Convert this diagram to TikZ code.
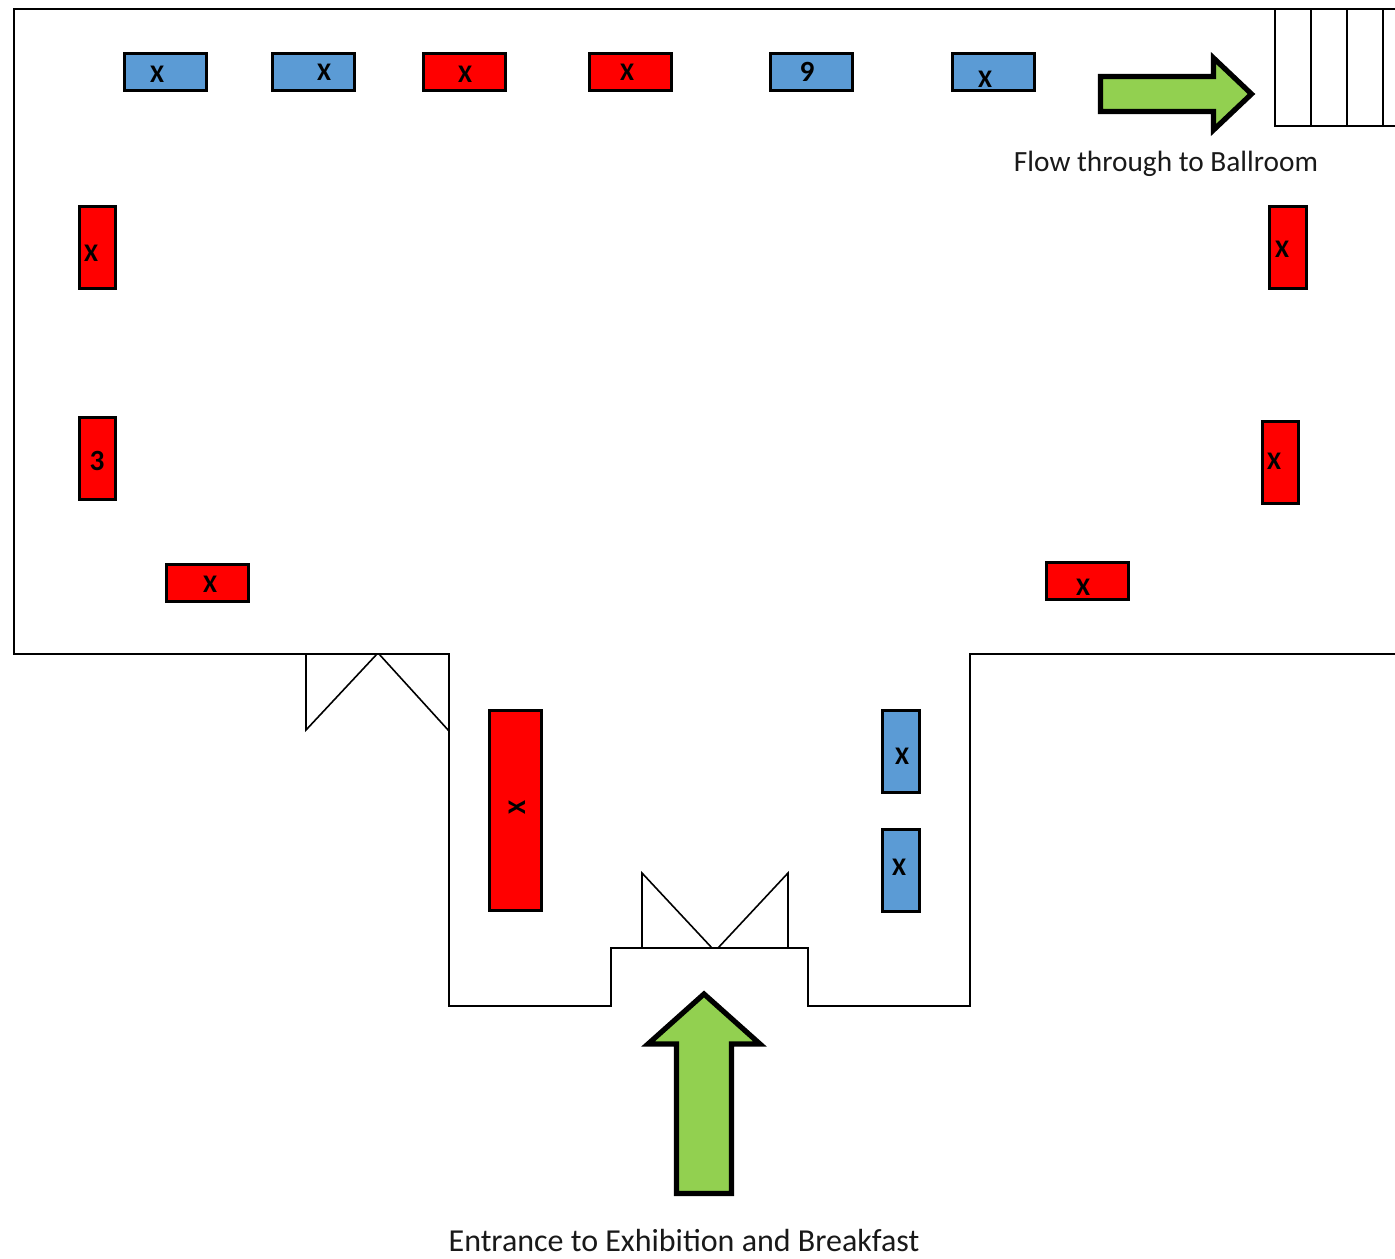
\documentclass[tikz,border=0pt]{standalone}
\usepackage{fontspec}
\setmainfont{Carlito}
\definecolor{tblred}{HTML}{FF0000}
\definecolor{tblblue}{HTML}{5B9BD5}
\definecolor{arrowgreen}{HTML}{92D050}
\tikzset{
  wall/.style={draw=black,line width=1.2pt,line join=miter},
  tbl/.style={draw=black,line width=2.25pt},
  redtbl/.style={tbl,fill=tblred},
  bluetbl/.style={tbl,fill=tblblue},
  flow/.style={draw=black,fill=arrowgreen,line width=3.9pt,line join=miter,miter limit=10},
  tblmark/.style={font=\bfseries\fontsize{19}{22}\selectfont,text=black,inner sep=0pt},
  tbldigit/.style={font=\bfseries\fontsize{22}{24}\selectfont,text=black,inner sep=0pt},
  flowcaption/.style={font=\fontsize{22}{26}\selectfont,text=black!90,inner sep=0pt},
  entrycaption/.style={font=\fontsize{24}{28}\selectfont,text=black!90,inner sep=0pt}
}
\newcommand{\tbl}[7]{%
  \path[#1] (#3,#5) rectangle (#4,#6);
  \node[tblmark] (#2) at #7 {X};}
\begin{document}
\begin{tikzpicture}[x=0.75pt,y=-0.75pt]
\useasboundingbox (0,0) rectangle (1395,1259);
% room outline
\draw[wall] (1395,9) -- (14,9) -- (14,654) -- (449,654) -- (449,1006) -- (611,1006) -- (611,948) -- (808,948) -- (808,1006) -- (970,1006) -- (970,654) -- (1395,654);
% stairs
\draw[wall] (1275,9) -- (1275,126) -- (1395,126);
\foreach \sx in {1311,1347,1383} \draw[wall] (\sx,9) -- (\sx,126);
% doors
\draw[wall] (306,654) -- (306,730) -- (377,654);
\draw[wall] (379,654) -- (449,731);
\draw[draw=black,line width=1.6pt] (449,654) -- (449,731);
\draw[wall] (642,948) -- (642,873) -- (712,948);
\draw[wall] (718,948) -- (788,873) -- (788,948);
% tables
\tbl{bluetbl}{a}{124}{206}{54}{91}{(157,74)}
\tbl{bluetbl}{b}{272}{354}{54}{91}{(324,72)}
\tbl{redtbl}{c}{423}{505}{54}{91}{(465,74)}
\tbl{redtbl}{d}{589}{671}{54}{91}{(627,72)}
\path[bluetbl] (770,54) rectangle (852,91);
\node[tbldigit] (e) at (807,72) {9};
\tbl{bluetbl}{f}{952}{1034}{54}{91}{(985,79)}
\tbl{redtbl}{g}{79}{115}{206}{288}{(91,253)}
\path[redtbl] (79,417) rectangle (115,499);
\node[tbldigit] (h) at (97,461) {3};
\tbl{redtbl}{i}{166}{248}{564}{601}{(210,584)}
\tbl{redtbl}{j}{1269}{1306}{206}{288}{(1282,249)}
\tbl{redtbl}{k}{1262}{1298}{421}{503}{(1274,461)}
\tbl{redtbl}{l}{1046}{1128}{562}{599}{(1083,587)}
\path[redtbl] (489,710) rectangle (541,910);
\node[tblmark,rotate=90] (m) at (517,808) {X};
\tbl{bluetbl}{n}{882}{919}{710}{792}{(902,756)}
\tbl{bluetbl}{o}{882}{919}{829}{911}{(899,867)}
% arrows
\path[flow] (1100.5,76.5) -- (1213.5,76.5) -- (1213.5,58) -- (1251.5,94) -- (1213.5,130) -- (1213.5,111.5) -- (1100.5,111.5) -- cycle;
\path[flow] (676.5,1193.5) -- (676.5,1044) -- (648,1044) -- (704,994) -- (760,1044) -- (731.5,1044) -- (731.5,1193.5) -- cycle;
% captions
\node[flowcaption] (flowtext) at (1166,164) {Flow through to Ballroom};
\node[entrycaption] (entrytext) at (684,1240) {Entrance to Exhibition and Breakfast};
\end{tikzpicture}
\end{document}
